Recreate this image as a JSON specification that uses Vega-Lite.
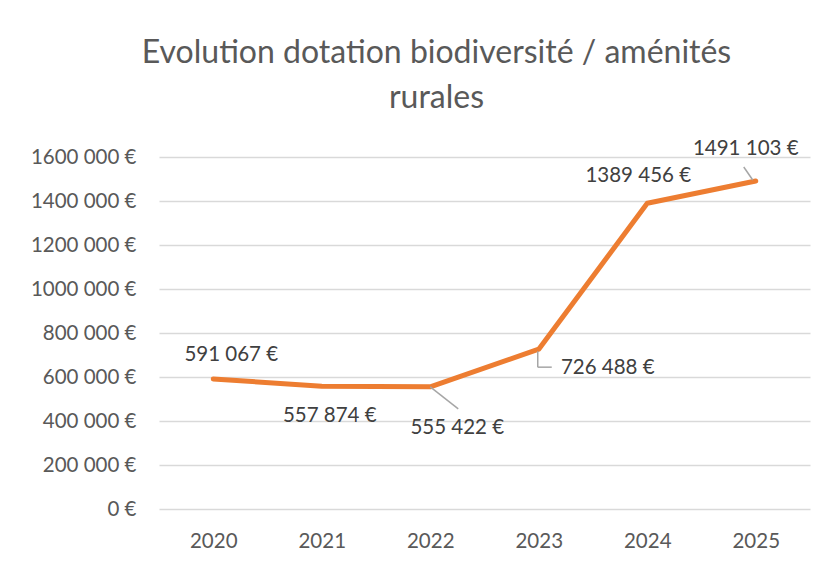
{
  "$schema": "https://vega.github.io/schema/vega-lite/v6.json",
  "width": 651,
  "height": 352,
  "autosize": {"type": "none"},
  "padding": {"left": 159, "top": 157, "right": 12, "bottom": 54},
  "background": "white",
  "title": {
    "text": ["Evolution dotation biodiversité / aménités", "rurales"],
    "font": "Lato",
    "fontSize": 32,
    "fontWeight": "normal",
    "color": "#595959",
    "anchor": "middle",
    "dx": -48,
    "lineHeight": 45,
    "offset": 24
  },
  "config": {
    "view": {"stroke": null},
    "axis": {"labelFont": "Lato", "labelColor": "#595959", "labelFontSize": 20.5}
  },
  "data": {
    "values": [
      {"year": "2020", "value": 591067, "label": "591 067 €"},
      {"year": "2021", "value": 557874, "label": "557 874 €"},
      {"year": "2022", "value": 555422, "label": "555 422 €"},
      {"year": "2023", "value": 726488, "label": "726 488 €"},
      {"year": "2024", "value": 1389456, "label": "1389 456 €"},
      {"year": "2025", "value": 1491103, "label": "1491 103 €"}
    ]
  },
  "encoding": {
    "x": {
      "field": "year",
      "type": "ordinal",
      "scale": {"type": "point", "padding": 0.5},
      "axis": {"title": null, "labelAngle": 0, "domain": false, "ticks": false, "grid": false, "labelPadding": 22}
    },
    "y": {
      "field": "value",
      "type": "quantitative",
      "scale": {"domain": [0, 1600000], "nice": false},
      "axis": {
        "title": null,
        "values": [0, 200000, 400000, 600000, 800000, 1000000, 1200000, 1400000, 1600000],
        "labelExpr": "(datum.value == 0 ? '0' : format(floor(datum.value / 1000), 'd') + ' 000') + ' €'",
        "domain": false,
        "ticks": false,
        "grid": true,
        "gridColor": "#D9D9D9",
        "gridWidth": 1.4,
        "labelPadding": 23
      }
    }
  },
  "layer": [
    {
      "mark": {"type": "line", "color": "#ED7D31", "strokeWidth": 5, "strokeCap": "round", "strokeJoin": "round"}
    },
    {
      "transform": [{"filter": "datum.year == '2022'"}],
      "mark": {"type": "rule", "color": "#A6A6A6", "strokeWidth": 1.5, "x2Offset": 28, "y2Offset": 22},
      "encoding": {"x2": {"field": "year"}, "y2": {"field": "value"}}
    },
    {
      "transform": [{"filter": "datum.year == '2023'"}],
      "mark": {"type": "rule", "color": "#A6A6A6", "strokeWidth": 1.5, "xOffset": -1, "x2Offset": -1, "yOffset": 2, "y2Offset": 18},
      "encoding": {"x2": {"field": "year"}, "y2": {"field": "value"}}
    },
    {
      "transform": [{"filter": "datum.year == '2023'"}],
      "mark": {"type": "rule", "color": "#A6A6A6", "strokeWidth": 1.5, "xOffset": -1, "x2Offset": 13, "yOffset": 18, "y2Offset": 18},
      "encoding": {"x2": {"field": "year"}, "y2": {"field": "value"}}
    },
    {
      "transform": [{"filter": "datum.year == '2025'"}],
      "mark": {"type": "rule", "color": "#A6A6A6", "strokeWidth": 1.5, "xOffset": -12, "yOffset": -14, "x2Offset": -3, "y2Offset": -1},
      "encoding": {"x2": {"field": "year"}, "y2": {"field": "value"}}
    },
    {
      "transform": [{"filter": "datum.year == '2020'"}],
      "mark": {"type": "text", "font": "Lato", "fontSize": 20.5, "color": "#404040", "dx": 18, "dy": -24},
      "encoding": {"text": {"field": "label"}}
    },
    {
      "transform": [{"filter": "datum.year == '2021'"}],
      "mark": {"type": "text", "font": "Lato", "fontSize": 20.5, "color": "#404040", "dx": 8, "dy": 30},
      "encoding": {"text": {"field": "label"}}
    },
    {
      "transform": [{"filter": "datum.year == '2022'"}],
      "mark": {"type": "text", "font": "Lato", "fontSize": 20.5, "color": "#404040", "dx": 27, "dy": 41},
      "encoding": {"text": {"field": "label"}}
    },
    {
      "transform": [{"filter": "datum.year == '2023'"}],
      "mark": {"type": "text", "font": "Lato", "fontSize": 20.5, "color": "#404040", "dx": 69, "dy": 19},
      "encoding": {"text": {"field": "label"}}
    },
    {
      "transform": [{"filter": "datum.year == '2024'"}],
      "mark": {"type": "text", "font": "Lato", "fontSize": 20.5, "color": "#404040", "dx": -9, "dy": -27},
      "encoding": {"text": {"field": "label"}}
    },
    {
      "transform": [{"filter": "datum.year == '2025'"}],
      "mark": {"type": "text", "font": "Lato", "fontSize": 20.5, "color": "#404040", "dx": -10, "dy": -32},
      "encoding": {"text": {"field": "label"}}
    }
  ]
}
